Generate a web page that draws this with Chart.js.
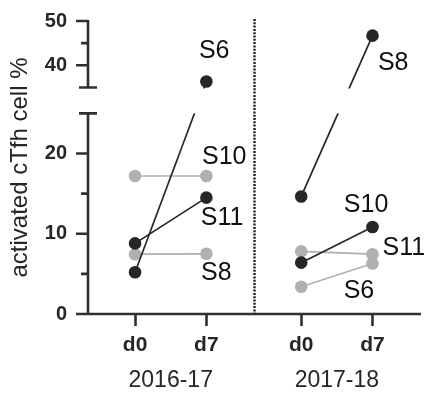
<!DOCTYPE html>
<html>
<head>
<meta charset="utf-8">
<script src="https://cdn.jsdelivr.net/npm/chart.js@4.4.1/dist/chart.umd.min.js"></script>
<style>
  html, body { margin: 0; padding: 0; background: #fff; }
  #wrap { width: 432px; height: 399px; }
</style>
</head>
<body>
<div id="wrap"><canvas id="chart" width="432" height="399"></canvas></div>
<script>
const timepoints = ['d0', 'd7'];
const seasons = ['2016-17', '2017-18'];

// 2016-17 season
const subjects1 = ['S6', 'S11', 'S10', 'S8'];
const d0_1 = [5.2, 8.8, 17.2, 7.45];
const d7_1 = [36.35, 14.5, 17.2, 7.5];

// 2017-18 season
const subjects2 = ['S8', 'S10', 'S11', 'S6'];
const d0_2 = [14.65, 6.4, 7.8, 3.4];
const d7_2 = [46.7, 10.85, 7.45, 6.3];

const yTicks = [0, 5, 10, 15, 20, 25, 35, 40, 45, 50];
const yLabelled = [0, 10, 20, 40, 50];

// which subjects are drawn dark (the rest grey)
const darkSubjects = [['S6', 'S11'], ['S8', 'S10']];

// x slots for d0/d7 of each season, and where the season divider sits
const xSlots = [[1, 2], [3.33, 4.33]];
const dividerX = 2.67;

// where the subject names go (data units)
const tagSpots = [
  [{ t: 'S6', x: 2.11, y: 43.3 }, { t: 'S10', x: 2.25, y: 19.6 }, { t: 'S11', x: 2.22, y: 12.0 }, { t: 'S8', x: 2.14, y: 5.1 }],
  [{ t: 'S8', x: 4.62, y: 40.6 }, { t: 'S10', x: 4.24, y: 13.6 }, { t: 'S11', x: 4.77, y: 8.2 }, { t: 'S6', x: 4.14, y: 2.85 }]
];

const FONT = '"Liberation Sans", Arial, sans-serif';
const DARK = '#262626';
const GREY = '#b0b0b0';
const AXIS = '#303030';

// broken y axis: 0-25 below, 35-50 above
const LOW_TOP = 25, HIGH_BOTTOM = 35, Y_MAX = 50;
const LOW_FRAC = 0.6847, HIGH_FRAC = 0.7731;

class BrokenScale extends Chart.LinearScale {
  getPixelForValue(v) {
    let f;
    if (v <= LOW_TOP) f = v / LOW_TOP * LOW_FRAC;
    else if (v >= HIGH_BOTTOM) f = HIGH_FRAC + (v - HIGH_BOTTOM) / (Y_MAX - HIGH_BOTTOM) * (1 - HIGH_FRAC);
    else f = LOW_FRAC + (v - LOW_TOP) / (HIGH_BOTTOM - LOW_TOP) * (HIGH_FRAC - LOW_FRAC);
    return this.bottom - f * (this.bottom - this.top);
  }
  getValueForPixel(p) {
    const f = (this.bottom - p) / (this.bottom - this.top);
    if (f <= LOW_FRAC) return f / LOW_FRAC * LOW_TOP;
    if (f >= HIGH_FRAC) return HIGH_BOTTOM + (f - HIGH_FRAC) / (1 - HIGH_FRAC) * (Y_MAX - HIGH_BOTTOM);
    return LOW_TOP + (f - LOW_FRAC) / (HIGH_FRAC - LOW_FRAC) * (HIGH_BOTTOM - LOW_TOP);
  }
  buildTicks() {
    return yTicks.map(v => ({ value: v }));
  }
}
BrokenScale.id = 'broken';
BrokenScale.defaults = Chart.LinearScale.defaults;
Chart.register(BrokenScale);

function makeSets(subjects, d0, d7, s) {
  return subjects.map((name, i) => {
    const col = darkSubjects[s].includes(name) ? DARK : GREY;
    return {
      label: seasons[s] + ' ' + name,
      data: [{ x: xSlots[s][0], y: d0[i] }, { x: xSlots[s][1], y: d7[i] }],
      borderColor: col,
      backgroundColor: col,
      pointBackgroundColor: col,
      pointBorderWidth: 0,
      pointRadius: 6.3,
      borderWidth: 1.7,
      order: darkSubjects[s].includes(name) ? 0 : 1
    };
  });
}

const brokenAxes = {
  id: 'brokenAxes',
  afterDatasetsDraw(chart) {
    const { ctx, chartArea: a, scales: { x, y } } = chart;
    const p25 = y.getPixelForValue(LOW_TOP), p35 = y.getPixelForValue(HIGH_BOTTOM);
    ctx.save();
    // blank the gap between the two axis pieces
    ctx.fillStyle = '#fff';
    ctx.fillRect(a.left + 2, p35 + 1, a.right - a.left, p25 - p35 - 1);

    ctx.strokeStyle = AXIS;
    ctx.lineWidth = 2.6;
    ctx.lineCap = 'butt';
    ctx.beginPath();
    ctx.moveTo(a.left, a.top - 1); ctx.lineTo(a.left, p35);
    ctx.moveTo(a.left, p25); ctx.lineTo(a.left, a.bottom + 1.3);
    ctx.moveTo(a.left - 1.3, a.bottom); ctx.lineTo(a.right, a.bottom);
    // caps at the break
    ctx.moveTo(a.left - 9, p35); ctx.lineTo(a.left + 9, p35);
    ctx.moveTo(a.left - 9, p25); ctx.lineTo(a.left + 9, p25);
    yTicks.forEach(v => {
      if (v === LOW_TOP || v === HIGH_BOTTOM) return;
      const py = y.getPixelForValue(v);
      const len = yLabelled.includes(v) ? 12 : 7;
      ctx.moveTo(a.left - len, py); ctx.lineTo(a.left, py);
    });
    ctx.stroke();

    // dotted season divider
    const dx = Math.round(x.getPixelForValue(dividerX)) + 0.5;
    ctx.strokeStyle = '#1e1e1e';
    ctx.lineWidth = 2.4;
    ctx.setLineDash([2, 1.3]);
    ctx.beginPath();
    ctx.moveTo(dx, a.top - 2); ctx.lineTo(dx, a.bottom);
    ctx.stroke();
    ctx.setLineDash([]);

    // subject names
    ctx.fillStyle = '#111';
    ctx.font = '25px ' + FONT;
    ctx.textAlign = 'center';
    ctx.textBaseline = 'middle';
    tagSpots.forEach(list => list.forEach(s => {
      ctx.fillText(s.t, x.getPixelForValue(s.x), y.getPixelForValue(s.y));
    }));
    ctx.restore();
  }
};

const seasonCenters = xSlots.map(p => (p[0] + p[1]) / 2);

new Chart(document.getElementById('chart'), {
  type: 'line',
  data: {
    datasets: [
      ...makeSets(subjects1, d0_1, d7_1, 0),
      ...makeSets(subjects2, d0_2, d7_2, 1)
    ]
  },
  options: {
    responsive: false,
    animation: false,
    layout: { padding: { top: 20, right: 11, left: 0, bottom: 0 } },
    plugins: { legend: { display: false }, tooltip: { enabled: false } },
    scales: {
      x: {
        type: 'linear',
        min: 0.34,
        max: 5.01,
        weight: 0,
        afterBuildTicks: s => { s.ticks = xSlots.flat().map(v => ({ value: v })); },
        afterFit: s => { s.height = 50; },
        grid: { drawOnChartArea: false, drawTicks: true, tickLength: 12, tickWidth: 2.6, tickColor: AXIS },
        border: { display: false },
        ticks: {
          autoSkip: false,
          maxRotation: 0,
          padding: 7,
          color: '#262626',
          font: { family: FONT, size: 21, weight: 'bold' },
          callback: (v, i) => timepoints[i % 2]
        }
      },
      x2: {
        type: 'linear',
        position: 'bottom',
        min: 0.34,
        max: 5.01,
        weight: 1,
        afterBuildTicks: s => { s.ticks = seasonCenters.map(v => ({ value: v })); },
        afterFit: s => { s.height = 35; },
        grid: { display: false, drawTicks: false },
        border: { display: false },
        ticks: {
          autoSkip: false,
          maxRotation: 0,
          padding: 3,
          color: '#262626',
          font: { family: FONT, size: 23 },
          callback: (v, i) => seasons[i]
        }
      },
      y: {
        type: 'broken',
        min: 0,
        max: 50,
        afterFit: s => { s.width = 88; },
        grid: { display: false, drawTicks: true, tickLength: 12 },
        border: { display: false },
        ticks: {
          autoSkip: false,
          padding: 9,
          color: '#262626',
          font: { family: FONT, size: 20, weight: 'bold' },
          callback: v => (yLabelled.includes(v) ? String(v) : '')
        },
        title: {
          display: true,
          text: 'activated cTfh cell %',
          color: '#262626',
          font: { family: FONT, size: 24 },
          padding: { top: 6, bottom: 0 }
        }
      }
    }
  },
  plugins: [brokenAxes]
});
</script>
</body>
</html>
